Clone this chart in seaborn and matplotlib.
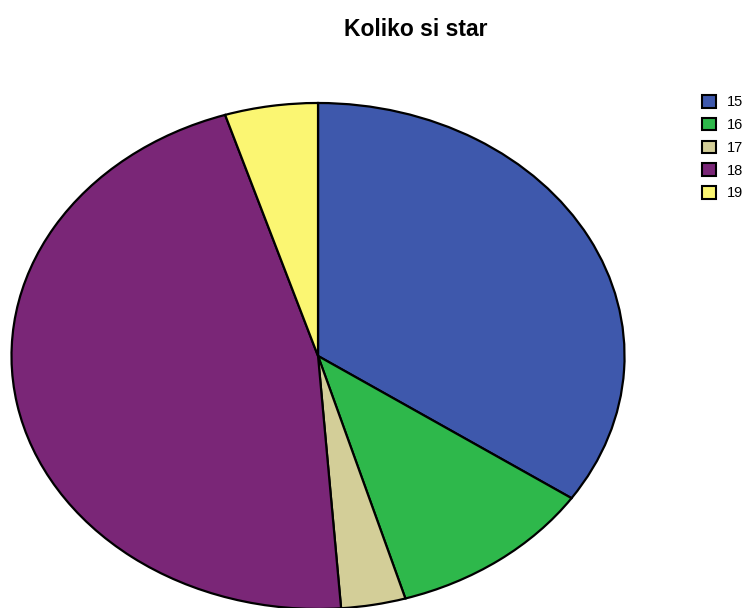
import matplotlib
matplotlib.use("Agg")
import matplotlib.pyplot as plt
import seaborn as sns

# Age distribution (share of respondents, %)
ages = ["15", "16", "17", "18", "19"]
shares = [34.5, 10.9, 3.4, 46.3, 4.9]
colors = ["#3E58AC", "#2EB84B", "#D3CE98", "#7A2677", "#FBF672"]

sns.set_theme(style="white")
plt.rcParams["font.family"] = ["Liberation Sans", "DejaVu Sans"]
plt.rcParams["text.color"] = "black"

fig = plt.figure(figsize=(7.52, 6.08), dpi=100)
ax = fig.add_axes([0.0153, -0.0016, 0.8152, 0.8322])

wedges, _ = ax.pie(
    shares,
    colors=colors,
    startangle=90,
    counterclock=False,
    radius=1.0,
    wedgeprops=dict(edgecolor="black", linewidth=1.6),
)
for w in wedges:
    w.set_clip_on(False)
ax.set_aspect("auto")
ax.set_xlim(-1, 1)
ax.set_ylim(-1, 1)
ax.axis("off")

fig.text(0.553, 1 - 29 / 608, "Koliko si star", ha="center", va="center",
         fontsize=16.5, fontweight="bold", color="black")

leg = fig.legend(
    wedges, ages,
    loc="upper left",
    bbox_to_anchor=(0.9335, 1 - 95 / 608),
    frameon=False,
    fontsize=10.5,
    handlelength=0.95,
    handleheight=0.95,
    handletextpad=0.75,
    labelspacing=0.58,
    borderpad=0,
    borderaxespad=0,
)
for h in leg.legend_handles:
    h.set_linewidth(1.5)
    h.set_edgecolor("black")
for t in leg.get_texts():
    t.set_color("black")

fig.savefig("out.png", dpi=100)
